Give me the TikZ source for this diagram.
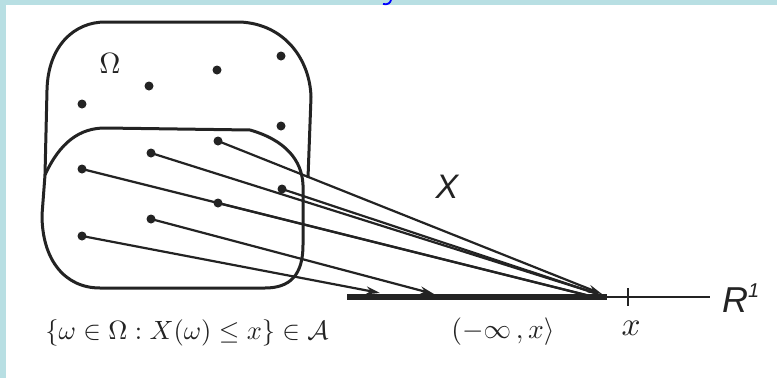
\documentclass[tikz,border=0pt]{standalone}
\usepackage{fix-cm}
\usepackage{fontspec}
\usepackage{amssymb}
\newfontfamily\armfont{Liberation Sans}
\usetikzlibrary{arrows.meta}
\definecolor{frameblue}{RGB}{184,223,227}
\definecolor{ink}{RGB}{35,35,35}
\tikzset{
  dot/.style={circle,fill=ink,inner sep=0pt,minimum size=9pt},
  outline/.style={draw=ink,line width=3pt,line join=round},
  ray/.style={draw=ink,line width=2.2pt},
  tipray/.style={ray,-{Stealth[length=14pt,width=8pt]}},
  lbl/.style={text=ink,inner sep=0pt}
}
\begin{document}
\begin{tikzpicture}[x=1pt,y=-1pt]
\useasboundingbox (0,0) rectangle (777,378);
\fill[frameblue] (0,0) rectangle (777,378);
\fill[white] (6,5) rectangle (777,378);
\draw[blue,line width=1.8pt] (383,4) .. controls (388,5) and (390,3) .. (391,0);
% outer set Omega
\path[outline] (45,175) -- (47,90) .. controls (48,45) and (75,22) .. (105,22) -- (240,22)
  .. controls (285,24) and (310,60) .. (311,97) -- (308,178);
% inner set
\path[outline] (45,175) .. controls (60,142) and (80,128) .. (105,128) -- (250,130)
  .. controls (285,140) and (302,160) .. (303,185) -- (303,245)
  .. controls (303,275) and (290,288) .. (265,288) -- (100,288)
  .. controls (65,288) and (42,260) .. (42,215) -- cycle;
% free dots
\node[dot] (p1) at (281,56) {};
\node[dot] (p2) at (217,70) {};
\node[dot] (p3) at (149,86) {};
\node[dot] (p4) at (82,104) {};
\node[dot] (p5) at (281,126) {};
% mapped dots
\node[dot] (d3) at (218,141) {};
\node[dot] (d2) at (151,153) {};
\node[dot] (d1) at (82,169) {};
\node[dot] (d4) at (282,189) {};
\node[dot] (d5) at (218,203) {};
\node[dot] (d6) at (151,219) {};
\node[dot] (d7) at (82,236) {};
% real line
\coordinate (a0) at (347,297);
\coordinate (a1) at (607,297);
\coordinate (a2) at (710,297);
\coordinate (t1) at (628,288);
\coordinate (t2) at (628,306);
\draw[ink,line width=6pt] (a0) -- (a1);
\draw[ink,line width=2.2pt] (a1) -- (a2);
\draw[ink,line width=2.8pt] (t1) -- (t2);
% images
\coordinate (e7) at (380,293);
\coordinate (e6) at (434,294);
\coordinate (e5) at (590,296);
\coordinate (e1) at (594,297);
\coordinate (e2) at (598,294);
\coordinate (e4) at (598,294);
\coordinate (e3) at (602,294);
\draw[tipray] (d7.center) -- (e7);
\draw[tipray] (d6.center) -- (e6);
\draw[ray] (d5.center) -- (e5);
\draw[ray] (d1.center) -- (e1);
\draw[ray] (d2.center) -- (e2);
\draw[ray] (d4.center) -- (e4);
\draw[tipray] (d3.center) -- (e3);
% labels
\node[lbl] (om) at (110,63) {\resizebox{!}{20pt}{$\Omega$}};
\node[lbl] (xl) at (447,187) {\armfont\itshape\fontsize{34}{36}\selectfont X};
\node[lbl,anchor=west] (rl) at (722,298) {\armfont\itshape\fontsize{36}{38}\selectfont R\raisebox{0.42em}{\fontsize{20}{22}\selectfont 1}};
\node[lbl] (xt) at (631,328) {\resizebox{19pt}{!}{$x$}};
\node[lbl] (iv) at (503,332) {\resizebox{103pt}{!}{$(-\infty\,,x\rangle$}};
\node[lbl] (st) at (187,333) {\resizebox{283pt}{!}{$\{\omega\in\Omega:X(\omega)\leq x\}\in\mathcal{A}$}};
\end{tikzpicture}
\end{document}
